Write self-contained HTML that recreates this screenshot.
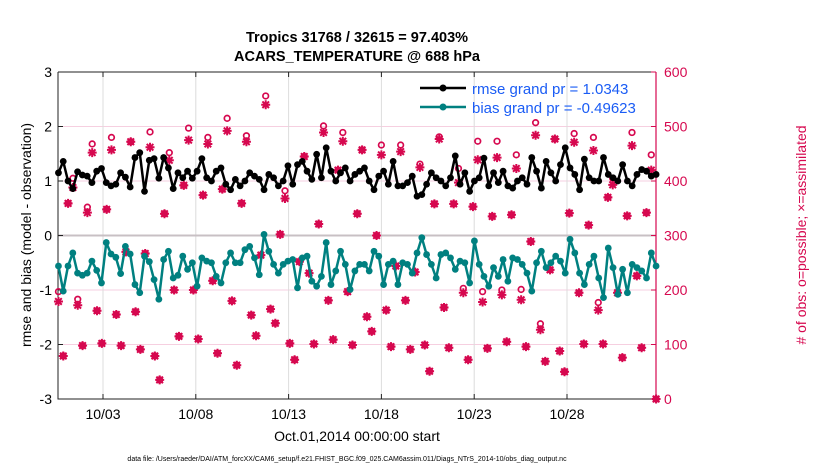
<!DOCTYPE html>
<html><head><meta charset="utf-8"><style>
body{margin:0;background:#fff;}
svg text{font-family:"Liberation Sans",Arial,sans-serif;}
</style></head><body>
<svg id="chart" width="830" height="470" viewBox="0 0 830 470" xmlns="http://www.w3.org/2000/svg">
<rect width="830" height="470" fill="#fff"/>
<text x="357" y="42" text-anchor="middle" font-size="14.5" font-weight="bold">Tropics 31768 / 32615 = 97.403%</text>
<text x="357" y="61" text-anchor="middle" font-size="14.5" font-weight="bold">ACARS_TEMPERATURE @ 688 hPa</text>
<g id="grid"></g>
<g id="axes"></g>
<g id="marks"></g>
<text transform="translate(31,235) rotate(-90)" text-anchor="middle" font-size="14">rmse and bias (model - observation)</text>
<text transform="translate(806,235) rotate(-90)" text-anchor="middle" font-size="14" fill="#d6084f">#  of obs: o=possible; ×=assimilated</text>
<text x="357" y="441" text-anchor="middle" font-size="14">Oct.01,2014 00:00:00 start</text>
<text x="347" y="461" text-anchor="middle" font-size="7">data file: /Users/raeder/DAI/ATM_forcXX/CAM6_setup/f.e21.FHIST_BGC.f09_025.CAM6assim.011/Diags_NTrS_2014-10/obs_diag_output.nc</text>
<g id="legend">
<line x1="420" y1="88" x2="466" y2="88" stroke="#000" stroke-width="2.5"/><circle cx="443" cy="88" r="3.5" fill="#000"/>
<text x="472" y="94" font-size="15" fill="#1a5cf5">rmse grand pr = 1.0343</text>
<line x1="420" y1="107" x2="466" y2="107" stroke="#008080" stroke-width="2.5"/><circle cx="443" cy="107" r="3.5" fill="#008080"/>
<text x="472" y="113" font-size="15" fill="#1a5cf5">bias grand pr = -0.49623</text>
</g>
</svg>
<script>
const rmseValues=[1.15,1.36,1.0,0.86,1.17,1.11,1.09,0.97,1.18,1.23,0.97,0.91,0.94,1.15,1.07,0.89,1.43,1.52,0.81,1.38,1.41,1.05,1.43,1.24,0.86,1.15,1.06,1.18,1.05,1.18,1.41,1.06,
1.0,1.18,1.24,0.94,0.84,1.03,0.91,1.0,1.15,1.09,1.03,0.84,1.12,1.06,0.91,1.0,1.28,0.94,1.30,1.36,1.18,1.03,1.49,1.06,1.61,1.18,1.0,1.15,1.24,1.0,1.12,1.18,
1.24,1.0,0.84,1.09,1.18,0.94,1.36,0.91,0.91,0.97,1.09,0.72,0.75,0.94,1.15,1.06,1.0,0.91,1.06,1.46,0.94,1.15,0.81,1.0,1.06,1.42,0.91,1.15,0.97,1.18,0.91,
0.87,1.0,1.06,0.94,1.43,1.18,0.87,1.36,1.15,1.0,1.30,1.61,1.24,1.12,0.84,1.40,1.06,1.0,1.0,1.43,1.12,1.06,1.0,1.30,1.0,0.91,1.12,1.21,1.18,1.09,1.12];
const biasValues=[-0.56,-1.02,-0.56,-0.32,-0.69,-0.73,-0.69,-0.47,-0.64,-0.87,-0.13,-0.34,-0.40,-0.70,-0.20,-0.34,-0.90,-1.05,-0.38,-0.48,-0.81,-1.17,-0.44,-0.29,-0.78,-0.73,-0.38,-0.62,-0.50,-0.93,-0.41,-0.47,
-0.50,-0.75,-0.87,-0.50,-0.32,-0.50,-0.50,-0.26,-0.20,-0.41,-0.72,0.02,-0.29,-0.53,-0.69,-0.53,-0.47,-0.44,-0.96,-0.41,-0.38,-0.84,-0.93,-0.75,-0.13,-0.90,-0.65,-0.29,-0.53,-0.99,-0.65,-0.53,
-0.53,-0.65,-0.29,-0.38,-0.90,-0.53,-0.47,-0.90,-0.50,-0.53,-0.69,-0.32,-0.04,-0.35,-0.53,-0.78,-0.35,-0.32,-0.41,-0.62,-0.47,-0.50,-0.87,-0.10,-0.53,-0.75,-0.93,-0.59,-0.75,-0.44,-0.84,-0.41,
-0.44,-0.53,-0.69,-1.02,-0.50,-0.29,-0.59,-0.50,-0.38,-0.47,-0.69,-0.07,-0.32,-0.69,-0.90,-0.53,-0.38,-0.78,-1.14,-0.23,-0.59,-1.08,-0.62,-1.05,-0.53,-0.59,-0.65,-0.78,-0.32,-0.56];
const assimCounts=[179,79,359,388,172,98,342,452,162,102,348,457,155,98,270,472,160,91,267,462,79,35,340,438,200,115,392,475,200,110,374,468,
217,84,385,492,180,62,359,472,154,116,264,540,165,139,302,368,102,72,252,445,231,101,321,489,181,109,420,473,197,99,340,
457,151,124,300,448,163,96,244,454,181,91,233,425,99,51,358,477,168,94,358,397,195,72,353,439,178,93,335,443,191,105,
338,423,182,96,289,484,127,69,237,477,88,50,341,471,195,101,319,456,163,101,370,393,195,76,336,465,226,94,342,420,0];
const possibleCounts=[197,79,359,405,183,98,352,468,162,102,348,480,155,98,270,472,160,91,267,490,79,35,340,452,200,115,392,497,200,110,374,480,
217,84,385,515,180,62,359,483,154,116,264,556,165,139,302,382,102,72,252,445,231,101,321,501,181,109,420,489,197,99,340,
457,151,124,300,466,163,96,244,466,181,91,233,431,99,51,358,481,168,94,358,423,203,72,353,473,197,93,335,473,200,105,
338,448,201,96,289,507,138,69,237,477,88,50,341,487,195,101,319,480,177,101,370,405,195,76,336,489,226,94,342,448,0];
const xTickDays=[3,8,13,18,23,28];
const xTickLabels=["10/03","10/08","10/13","10/18","10/23","10/28"];
const yLeftTicks=[-3,-2,-1,0,1,2,3];
const yRightTicks=[0,100,200,300,400,500,600];
const dayStart=0.6, dayEnd=32.8;

const L=58,R=656,T=72,B=399;
const xs=d=>103+(d-3)*18.56;
const yl=v=>B-(v+3)/6*(B-T);
const yr=c=>B-c/600*(B-T);
const NS="http://www.w3.org/2000/svg";
function mk(tag,attrs,parent){const e=document.createElementNS(NS,tag);for(const k in attrs)e.setAttribute(k,attrs[k]);parent.appendChild(e);return e;}
const grid=document.getElementById('grid'),axes=document.getElementById('axes'),marks=document.getElementById('marks');
const tOf=(i,n)=>dayStart+i*(dayEnd-dayStart)/(n-1);

yRightTicks.forEach(c=>{if(c>0&&c<600&&c!==300){const g=mk('line',{x1:L,x2:R,y1:yr(c),y2:yr(c),stroke:'#f6cfe0','stroke-width':1},grid);

}});
xTickDays.forEach(d=>{const g=mk('line',{x1:xs(d),x2:xs(d),y1:T,y2:B,stroke:'#dcdcdc','stroke-width':1},grid);

});
const z=mk('line',{x1:L,x2:R,y1:yl(0),y2:yl(0),stroke:'#c8c0c4','stroke-width':2},grid);



const frame=mk('path',{d:`M${L},${T}H${R}M${L},${T}V${B}H${R}`,stroke:'#222',fill:'none','stroke-width':1},axes);


const ra=mk('line',{x1:R,x2:R,y1:T,y2:B,stroke:'#d6084f','stroke-width':1.2},axes);


yLeftTicks.forEach(v=>{const y=yl(v);mk('line',{x1:L,x2:L+5,y1:y,y2:y,stroke:'#222'},axes);
const t=mk('text',{x:L-6,y:y+5,'text-anchor':'end','font-size':14},axes);t.textContent=v;

});
yRightTicks.forEach(c=>{const y=yr(c);mk('line',{x1:R-5,x2:R,y1:y,y2:y,stroke:'#d6084f'},axes);
const t=mk('text',{x:R+8,y:y+5,'font-size':14,fill:'#d6084f'},axes);t.textContent=c;

});
xTickDays.forEach((d,i)=>{const x=xs(d);mk('line',{x1:x,x2:x,y1:B,y2:B-5,stroke:'#222'},axes);mk('line',{x1:x,x2:x,y1:T,y2:T+5,stroke:'#222'},axes);
const t=mk('text',{x:x,y:B+20,'text-anchor':'middle','font-size':14},axes);t.textContent=xTickLabels[i];

});

const red='#d6084f';
possibleCounts.forEach((c,i)=>{const x=xs(tOf(i,possibleCounts.length)),y=yr(c);
const e=mk('circle',{cx:x,cy:y,r:2.8,fill:'none',stroke:red,'stroke-width':1.7},marks);

});
assimCounts.forEach((c,i)=>{const x=xs(tOf(i,assimCounts.length)),y=yr(c),s=4.5,d=3.3;
const e=mk('path',{d:`M${x-s},${y}H${x+s}M${x},${y-s}V${y+s}M${x-d},${y-d}L${x+d},${y+d}M${x-d},${y+d}L${x+d},${y-d}`,stroke:red,'stroke-width':2,fill:'none'},marks);

});

function series(vals,color,name){
 const pts=vals.map((v,i)=>[xs(tOf(i,vals.length)),yl(v)]);
 const p=mk('polyline',{points:pts.map(p=>p.join(',')).join(' '),fill:'none',stroke:color,'stroke-width':2.5,'stroke-linejoin':'round'},marks);
 
 
 pts.forEach(q=>{const c=mk('circle',{cx:q[0],cy:q[1],r:3.4,fill:color},marks);
 
 });
}
series(rmseValues,'#000','rmse');
series(biasValues,'#008080','bias');
</script>
</body></html>
